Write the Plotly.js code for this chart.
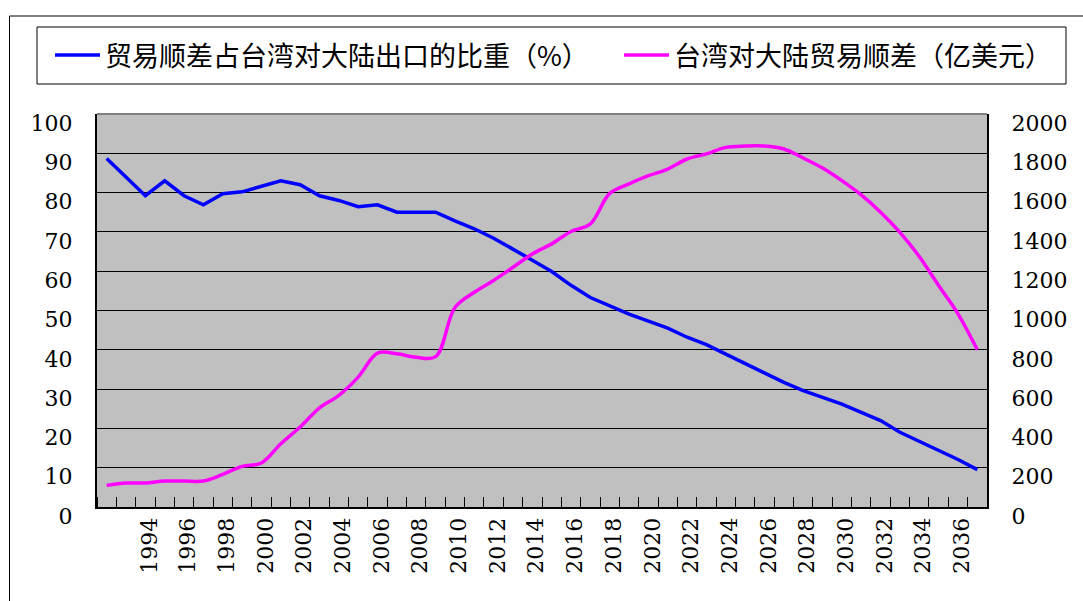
<!DOCTYPE html>
<html>
<head>
<meta charset="utf-8">
<script src="https://cdn.plot.ly/plotly-3.0.1.min.js"></script>
<style>html,body{margin:0;padding:0;background:#fff;}#chart{width:1083px;height:601px;}</style>
</head>
<body>
<div id="chart"></div>
<script>
var years = [1992,1993,1994,1995,1996,1997,1998,1999,2000,2001,2002,2003,2004,2005,2006,2007,2008,2009,2010,2011,2012,2013,2014,2015,2016,2017,2018,2019,2020,2021,2022,2023,2024,2025,2026,2027,2028,2029,2030,2031,2032,2033,2034,2035,2036,2037];
var shareOfExports = [88.7,84.0,79.2,83.0,79.2,76.9,79.7,80.2,81.6,83.0,82.0,79.2,78.0,76.4,76.9,75.0,75.0,75.0,72.8,70.8,68.4,65.7,62.8,59.9,56.4,53.3,51.1,49.1,47.3,45.5,43.2,41.3,38.9,36.5,34.2,31.7,29.6,27.9,26.2,24.1,22.0,19.0,16.7,14.4,12.1,9.5];
var tradeSurplus = [110,122,122,132,132,132,166,207,224,322,407,505,568,661,783,780,762,765,1015,1093,1153,1220,1288,1339,1402,1441,1596,1644,1686,1720,1771,1797,1830,1837,1837,1822,1776,1725,1661,1588,1500,1398,1275,1127,983,800];
var tickYears = [1994,1996,1998,2000,2002,2004,2006,2008,2010,2012,2014,2016,2018,2020,2022,2024,2026,2028,2030,2032,2034,2036];
var seriesNames = ['贸易顺差占台湾对大陆出口的比重（%）','台湾对大陆贸易顺差（亿美元）'];

var ML = 97, MR = 96, MT = 114, MB = 94, W = 1083, H = 601;
var PW = W - ML - MR, PH = H - MT - MB;
function px2x(p){ return (p - ML) / PW; }
function py2y(p){ return (H - MB - p) / PH; }

var cjk = 'Noto Sans CJK SC';
var serif = 'DejaVu Serif';
var tickFont = {family: serif, size: 22, color: '#000'};

var traces = [
  {x: years, y: shareOfExports, name: seriesNames[0], type: 'scatter', mode: 'lines',
   line: {color: '#0000FF', width: 3.5}, yaxis: 'y', legend: 'legend'},
  {x: years, y: tradeSurplus, name: seriesNames[1], type: 'scatter', mode: 'lines',
   line: {color: '#FF00FF', width: 3.5, shape: 'spline', smoothing: 1}, yaxis: 'y2', legend: 'legend2'}
];

var legendBase = {
  orientation: 'h', y: py2y(31), xanchor: 'left', yanchor: 'top',
  borderwidth: 0, bgcolor: 'rgba(0,0,0,0)',
  font: {family: cjk, size: 27, color: '#000'}, itemwidth: 45
};

var layout = {
  width: W, height: H,
  margin: {l: ML, r: MR, t: MT, b: MB, pad: 0},
  paper_bgcolor: '#FFFFFF',
  plot_bgcolor: '#C0C0C0',
  showlegend: true,
  legend: Object.assign({}, legendBase, {x: px2x(50)}),
  legend2: Object.assign({}, legendBase, {x: px2x(619)}),
  xaxis: {
    range: [1991.5, 2037.5], tickmode: 'array', tickvals: tickYears, ticktext: tickYears.map(String),
    tickangle: -90, ticks: '', showgrid: false, zeroline: false,
    showline: true, linecolor: '#000', linewidth: 2,
    tickfont: tickFont,
    ticklabelstandoff: 0, ticklabelshift: 4,
    minor: {tickmode: 'linear', tick0: 1991.5, dtick: 1, ticks: 'inside', ticklen: 10, tickcolor: '#000', tickwidth: 1, showgrid: false}
  },
  yaxis: {
    range: [0, 100], dtick: 10, tick0: 0, showgrid: true, gridcolor: '#000', gridwidth: 1,
    zeroline: false, showline: true, linecolor: '#000', linewidth: 2,
    ticks: 'inside', ticklen: 6, tickcolor: '#000',
    tickfont: tickFont,
    ticklabelstandoff: 18, ticklabelshift: 9
  },
  yaxis2: {
    range: [0, 2000], dtick: 200, tick0: 0, overlaying: 'y', side: 'right', showgrid: false,
    zeroline: false, showline: true, linecolor: '#000', linewidth: 2,
    ticks: 'inside', ticklen: 6, tickcolor: '#000',
    tickfont: tickFont,
    ticklabelstandoff: 18, ticklabelshift: 9
  },
  shapes: [
    {type: 'rect', xref: 'paper', yref: 'paper', x0: px2x(9.5), x1: px2x(1100), y0: py2y(620), y1: py2y(16),
     line: {color: '#000', width: 1}, fillcolor: 'rgba(0,0,0,0)', layer: 'below'},
    {type: 'rect', xref: 'paper', yref: 'paper', x0: px2x(37), x1: px2x(1066), y0: py2y(84), y1: py2y(27),
     line: {color: '#000', width: 1}, fillcolor: '#FFFFFF', layer: 'below'},
    {type: 'line', xref: 'paper', yref: 'paper', x0: 0, x1: 1, y0: 1, y1: 1,
     line: {color: '#808080', width: 2}}
  ]
};

Plotly.newPlot('chart', traces, layout, {staticPlot: true, displayModeBar: false});
</script>
</body>
</html>
